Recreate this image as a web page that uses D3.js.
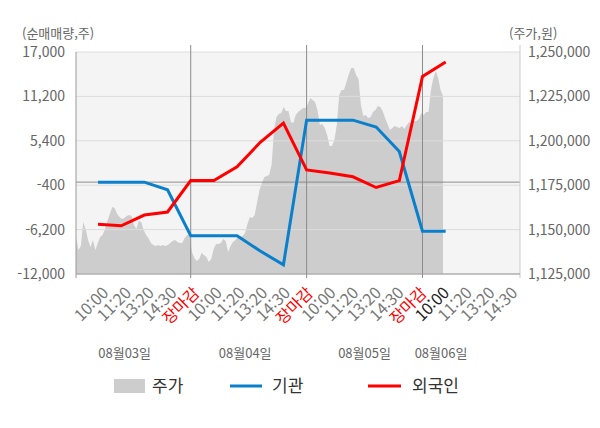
<!DOCTYPE html>
<html lang="ko">
<head>
<meta charset="UTF-8">
<script src="https://d3js.org/d3.v7.min.js"></script>
<style>
  body { margin: 0; background: #fff; }
  text { font-family: "Noto Sans CJK KR", "Noto Sans", sans-serif; }
</style>
</head>
<body>
<svg id="chart" width="600" height="428"></svg>
<script>
// x categories (one per trading slot)
const timeLabels = ["10:00", "11:20", "13:20", "14:30", "장마감",
                    "10:00", "11:20", "13:20", "14:30", "장마감",
                    "10:00", "11:20", "13:20", "14:30", "장마감",
                    "10:00", "11:20", "13:20", "14:30"];
const dayLabels = ["08월03일", "08월04일", "08월05일", "08월06일"];
const dayLabelAt = [1.15, 6.35, 11.5, 14.8];   // slot position of each date label
const currentSlot = 15;

// net buying (shares) per slot
const institution = [0, 0, 0, -1000, -7000, -7000, -7000, -9000, -10800,
                     8100, 8100, 8100, 7200, 4000, -6400, -6400];
const foreign = [-5500, -5700, -4300, -3900, 200, 200, 2000, 5200, 7700,
                 1600, 1200, 700, -700, 200, 13800, 15700];

// intraday price (won), 48 readings per full session
const priceDay1 = [1145800, 1138500, 1140800, 1154300, 1150300, 1144100, 1140200, 1144100, 1138500, 1142500,
                   1145800, 1147000, 1150300, 1154800, 1158800, 1162700, 1162200, 1158800, 1157100, 1156000,
                   1156500, 1157700, 1158200, 1157700, 1152600, 1150300, 1154800, 1154300, 1149800, 1147000,
                   1145300, 1142500, 1141300, 1140800, 1141300, 1140800, 1141300, 1140800, 1141300, 1142500,
                   1143600, 1144100, 1143000, 1142500, 1142500, 1145300, 1147000, 1147000];
const priceDay2 = [1137400, 1134000, 1132300, 1133400, 1136800, 1135700, 1134600, 1131800, 1133400, 1139100,
                   1141900, 1141900, 1142500, 1144700, 1143600, 1137400, 1140800, 1143000, 1144100, 1145800,
                   1145800, 1146400, 1148100, 1153200, 1157100, 1156500, 1158200, 1165600, 1172300, 1176300,
                   1179600, 1180200, 1180800, 1186400, 1206100, 1213400, 1215100, 1215700, 1219000, 1216800,
                   1216800, 1210600, 1210000, 1214500, 1216200, 1217300, 1218500, 1218500];
const priceDay3 = [1220700, 1224100, 1223000, 1221800, 1217300, 1208900, 1209500, 1207200, 1203300, 1197100,
                   1197100, 1200500, 1208900, 1225800, 1228600, 1228600, 1233100, 1237600, 1241000, 1241000,
                   1237100, 1234800, 1220200, 1214000, 1214500, 1212800, 1213400, 1216200, 1217300, 1219600,
                   1219000, 1216800, 1212800, 1209500, 1206100, 1207200, 1208300, 1207800, 1207200, 1208300,
                   1206600, 1208900, 1210600, 1209500, 1211100, 1211100, 1212300, 1215700];
const priceDay4 = [1214500, 1216200, 1216200, 1228600, 1235400, 1239300, 1235400, 1228600, 1225200];

const volTicks = [17000, 11200, 5400, -400, -6200, -12000];
const priceTicks = [1250000, 1225000, 1200000, 1175000, 1150000, 1125000];

const svg = d3.select("#chart");
const plot = {left: 76, right: 520, top: 52, bottom: 274};
const perSession = 48;

const x = d3.scaleLinear().domain([0, 14]).range([98, 422.5]);
const xLabel = d3.scaleLinear().domain([0, 18]).range([109, 518]);
const yVol = d3.scaleLinear().domain([-12000, 17000]).range([plot.bottom, plot.top]);
const yPrice = d3.scaleLinear().domain([1125000, 1250000]).range([plot.bottom, plot.top]);
const fmt = d3.formatLocale({decimal: ".", thousands: ",", grouping: [3], currency: ["", ""], minus: "-"}).format(",");

// background
svg.append("rect")
    .attr("x", plot.left).attr("y", plot.top)
    .attr("width", plot.right - plot.left).attr("height", plot.bottom - plot.top)
    .attr("fill", "#f4f4f4");

svg.append("clipPath").attr("id", "clip").append("rect")
    .attr("x", plot.left).attr("y", plot.top)
    .attr("width", plot.right - plot.left).attr("height", plot.bottom - plot.top);

// price area: each session spans 5 slots, starting one slot before its 10:00
const priceData = [];
[priceDay1, priceDay2, priceDay3, priceDay4].forEach((day, d) => {
    day.forEach((p, k) => priceData.push({slot: d * 5 - 1 + (k + 0.5) * 5 / perSession, price: p}));
});
svg.append("path")
    .datum(priceData)
    .attr("clip-path", "url(#clip)")
    .attr("fill", "#cdcdcd")
    .attr("d", d3.area()
        .x(d => x(d.slot))
        .y0(plot.bottom)
        .y1(d => yPrice(d.price)));

// gridlines
svg.append("g").selectAll("line").data(volTicks).join("line")
    .attr("x1", plot.left).attr("x2", plot.right)
    .attr("y1", d => yVol(d)).attr("y2", d => yVol(d))
    .attr("stroke", "#dcdcdc").attr("stroke-width", 1);

svg.append("line")
    .attr("x1", plot.left).attr("x2", plot.right)
    .attr("y1", yVol(0)).attr("y2", yVol(0))
    .attr("stroke", "#8c8c8c").attr("stroke-width", 1);

// day separators
const dayEnds = [4, 9, 14];
svg.append("g").selectAll("line").data(dayEnds).join("line")
    .attr("x1", d => x(d)).attr("x2", d => x(d))
    .attr("y1", plot.top - 7).attr("y2", plot.bottom + 4)
    .attr("stroke", "#8c8c8c").attr("stroke-width", 1);

// axis frame
svg.append("line").attr("x1", plot.left).attr("x2", plot.left)
    .attr("y1", plot.top).attr("y2", plot.bottom + 4).attr("stroke", "#999");
svg.append("line").attr("x1", plot.right).attr("x2", plot.right)
    .attr("y1", plot.top - 7).attr("y2", plot.bottom + 4).attr("stroke", "#ccc");
svg.append("line").attr("x1", plot.left).attr("x2", plot.right)
    .attr("y1", plot.bottom).attr("y2", plot.bottom).attr("stroke", "#999");

// lines
const line = d3.line().x((d, i) => x(i)).y(d => yVol(d));
svg.append("path").datum(institution)
    .attr("fill", "none").attr("stroke", "#0a7fcc").attr("stroke-width", 3)
    .attr("d", line);
svg.append("path").datum(foreign)
    .attr("fill", "none").attr("stroke", "#ff0000").attr("stroke-width", 3)
    .attr("d", line);

// left axis
const leftAxis = svg.append("g")
    .attr("transform", `translate(${plot.left},0)`)
    .call(d3.axisLeft(yVol).tickValues(volTicks).tickSize(0).tickPadding(11).tickFormat(fmt));
leftAxis.select(".domain").remove();
leftAxis.selectAll("text").attr("fill", "#666").style("font-size", "14px");

// right axis
const rightAxis = svg.append("g")
    .attr("transform", `translate(${plot.right},0)`)
    .call(d3.axisRight(yPrice).tickValues(priceTicks).tickSize(0).tickPadding(8).tickFormat(fmt));
rightAxis.select(".domain").remove();
rightAxis.selectAll("text").attr("fill", "#666").style("font-size", "14px");

// axis titles
svg.append("text").attr("x", 22).attr("y", 38)
    .attr("fill", "#666").style("font-size", "13px").text("(순매매량,주)");
svg.append("text").attr("x", 509).attr("y", 38)
    .attr("fill", "#666").style("font-size", "13px").text("(주가,원)");

// time labels
const bottomAxis = svg.append("g")
    .attr("transform", `translate(0,${plot.bottom})`)
    .call(d3.axisBottom(xLabel).tickValues(d3.range(timeLabels.length)).tickSize(0)
        .tickFormat(i => timeLabels[i]));
bottomAxis.select(".domain").remove();
bottomAxis.selectAll("text")
    .attr("x", 0).attr("y", 0).attr("dy", 0)
    .attr("transform", "translate(0,20) rotate(-45)")
    .style("text-anchor", "end")
    .style("font-size", "16px")
    .attr("fill", (d, i) => timeLabels[i] === "장마감" ? "#ff0000" : (i === currentSlot ? "#222" : "#777"));

// date labels
svg.append("g").selectAll("text").data(dayLabels).join("text")
    .attr("x", (d, i) => x(dayLabelAt[i])).attr("y", 358)
    .attr("text-anchor", "middle")
    .attr("fill", "#666").style("font-size", "13px")
    .text(d => d);

// legend
const legend = svg.append("g").attr("transform", "translate(0,386)");
legend.append("rect").attr("x", 114).attr("y", -7).attr("width", 31).attr("height", 14).attr("fill", "#cdcdcd");
legend.append("text").attr("x", 152).attr("y", 6).attr("fill", "#333").style("font-size", "17px").text("주가");
legend.append("line").attr("x1", 230).attr("x2", 262).attr("y1", 0).attr("y2", 0)
    .attr("stroke", "#0a7fcc").attr("stroke-width", 3);
legend.append("text").attr("x", 272).attr("y", 6).attr("fill", "#333").style("font-size", "17px").text("기관");
legend.append("line").attr("x1", 368).attr("x2", 401).attr("y1", 0).attr("y2", 0)
    .attr("stroke", "#ff0000").attr("stroke-width", 3);
legend.append("text").attr("x", 412).attr("y", 6).attr("fill", "#333").style("font-size", "17px").text("외국인");
</script>
</body>
</html>
